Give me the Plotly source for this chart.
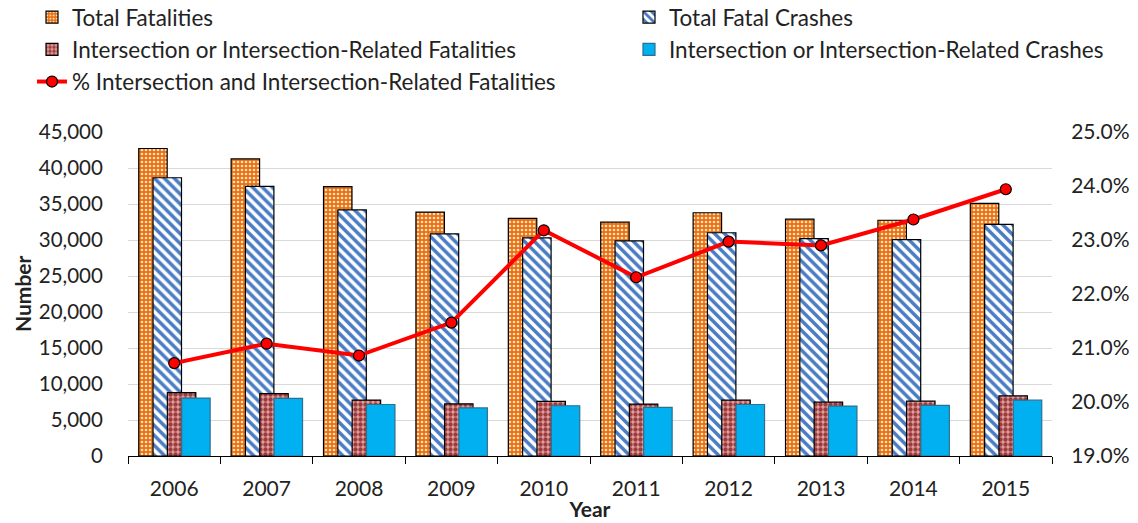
import plotly.graph_objects as go

years = ["2006", "2007", "2008", "2009", "2010", "2011", "2012", "2013", "2014", "2015"]
total_fatalities = [42708, 41259, 37423, 33883, 32999, 32479, 33782, 32893, 32744, 35092]
total_fatal_crashes = [38648, 37435, 34172, 30862, 30296, 29867, 31006, 30202, 30056, 32166]
int_fatalities = [8800, 8650, 7770, 7240, 7600, 7210, 7750, 7490, 7620, 8360]
int_crashes = [8050, 8000, 7150, 6680, 6980, 6760, 7150, 6940, 7030, 7750]
pct_int_fatalities = [20.72, 21.08, 20.86, 21.47, 23.18, 22.31, 22.97, 22.90, 23.38, 23.94]

FONT = "Lato"
TXT = "#222222"
W = 0.308
STEP = 0.155
START = -0.384

fig = go.Figure()

fig.add_trace(go.Bar(
    x=years, y=total_fatalities, name="Total Fatalities",
    width=W, offset=START, legend="legend", legendgroup="a",
    marker=dict(color="#E8700F", line=dict(color="black", width=1.2),
                pattern=dict(shape=".", bgcolor="#E8700F", fgcolor="#FBDDBF",
                             size=4, solidity=0.35, fillmode="replace")),
))
fig.add_trace(go.Bar(
    x=years, y=total_fatal_crashes, name="Total Fatal Crashes",
    width=W, offset=START + STEP, legend="legend2", legendgroup="b",
    marker=dict(color="white", line=dict(color="black", width=1.2),
                pattern=dict(shape="\\", bgcolor="white", fgcolor="#4A7CC4",
                             size=7, solidity=0.5, fillmode="replace")),
))
fig.add_trace(go.Bar(
    x=years, y=int_fatalities, name="Intersection or Intersection-Related Fatalities",
    width=W, offset=START + 2 * STEP, legend="legend", legendgroup="c",
    marker=dict(color="#E2A0A0", line=dict(color="black", width=1.2),
                pattern=dict(shape=".", bgcolor="#E2A0A0", fgcolor="#9B3B3B",
                             size=5, solidity=0.6, fillmode="replace")),
))
fig.add_trace(go.Bar(
    x=years, y=int_crashes, name="Intersection or Intersection-Related Crashes",
    width=W, offset=START + 3 * STEP, legend="legend2", legendgroup="d",
    marker=dict(color="#00B0F0", line=dict(color="#2E6F8E", width=1.2)),
))
fig.add_trace(go.Scatter(
    x=years, y=pct_int_fatalities, name="% Intersection and Intersection-Related Fatalities",
    yaxis="y2", mode="lines+markers", legend="legend", legendgroup="e",
    line=dict(color="#FF0000", width=4),
    marker=dict(color="#FF0000", size=11, line=dict(color="black", width=1.2)),
))

legend_common = dict(
    font=dict(family=FONT, size=22.5, color=TXT),
    bgcolor="rgba(0,0,0,0)", orientation="v",
    xanchor="left", yanchor="top", yref="paper", xref="paper",
    tracegroupgap=0, itemwidth=30, traceorder="grouped",
)

fig.update_layout(
    width=1138, height=523,
    paper_bgcolor="white", plot_bgcolor="white",
    margin=dict(l=128, r=86, t=132, b=67, autoexpand=False),
    barmode="overlay",
    font=dict(family=FONT, size=21, color=TXT),
    legend=dict(x=-0.1039, y=1.42, **legend_common),
    legend2=dict(x=0.5422, y=1.42, **legend_common),
    xaxis=dict(
        type="category", range=[-0.5, 9.5], tickson="boundaries", ticks="outside", ticklen=7,
        tickcolor="black", showline=True, linecolor="black", linewidth=1.3,
        showgrid=False, tickangle=0, ticklabelstandoff=14,
        tickfont=dict(family=FONT, size=21, color=TXT),
        title=dict(text="<b>Year</b>", font=dict(family=FONT, size=21, color=TXT), standoff=2),
    ),
    yaxis=dict(
        range=[0, 45000], dtick=5000, tickformat=",", showgrid=True,
        gridcolor="#D9D9D9", gridwidth=1.3, zeroline=False, showline=False,
        tickfont=dict(family=FONT, size=20.5, color=TXT),
        ticks="outside", ticklen=20, tickcolor="rgba(0,0,0,0)",
    ),
    yaxis2=dict(
        range=[19, 25], dtick=1, tickformat=".1f", ticksuffix="%",
        overlaying="y", side="right", showgrid=False, zeroline=False, showline=False,
        tickfont=dict(family=FONT, size=21, color=TXT),
        ticks="outside", ticklen=14, tickcolor="rgba(0,0,0,0)",
    ),
    annotations=[dict(
        text="<b>Number</b>", textangle=-90, xref="paper", yref="paper",
        x=-0.1147, y=0.5, xanchor="center", yanchor="middle", showarrow=False,
        font=dict(family=FONT, size=21, color=TXT),
    )],
)

fig.write_html("out.html", config={"displayModeBar": False},
               post_script="document.body.style.margin='0px';")
